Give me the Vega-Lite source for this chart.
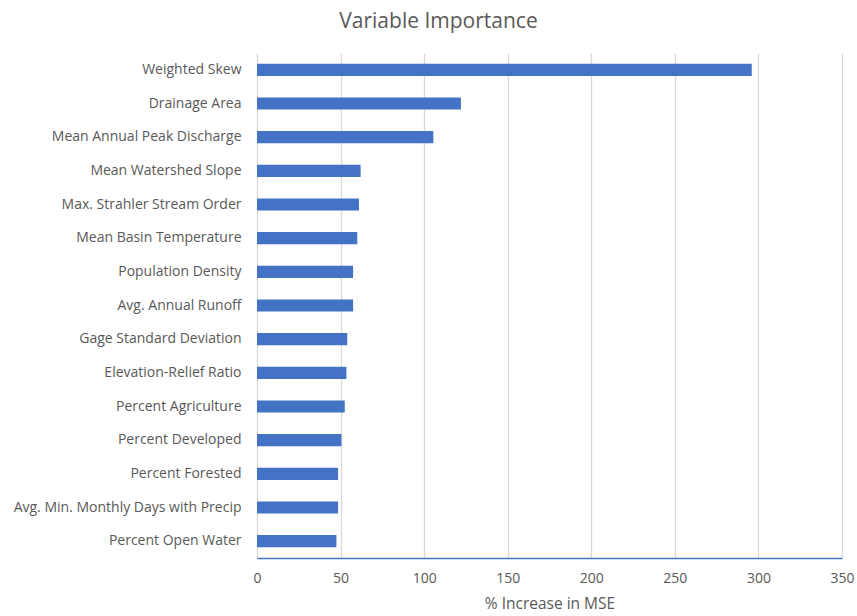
{
  "$schema": "https://vega.github.io/schema/vega-lite/v6.json",
  "autosize": "none",
  "padding": {"left": 257, "top": 53, "right": 15, "bottom": 58},
  "width": 585,
  "height": 505,
  "background": "white",
  "title": {
    "text": "Variable Importance",
    "font": "Open Sans",
    "fontSize": 21,
    "fontWeight": "normal",
    "color": "#595959",
    "anchor": "middle",
    "dx": -111,
    "offset": 21
  },
  "data": {
    "values": [
      {"variable": "Weighted Skew", "mse": 296},
      {"variable": "Drainage Area", "mse": 122},
      {"variable": "Mean Annual Peak Discharge", "mse": 105.5},
      {"variable": "Mean Watershed Slope", "mse": 62},
      {"variable": "Max. Strahler Stream Order", "mse": 61},
      {"variable": "Mean Basin Temperature", "mse": 60},
      {"variable": "Population Density", "mse": 57.5},
      {"variable": "Avg. Annual Runoff", "mse": 57.5},
      {"variable": "Gage Standard Deviation", "mse": 54},
      {"variable": "Elevation-Relief Ratio", "mse": 53.5},
      {"variable": "Percent Agriculture", "mse": 52.5},
      {"variable": "Percent Developed", "mse": 50.5},
      {"variable": "Percent Forested", "mse": 48.5},
      {"variable": "Avg. Min. Monthly Days with Precip", "mse": 48.5},
      {"variable": "Percent Open Water", "mse": 47.5}
    ]
  },
  "mark": {"type": "bar", "color": "#4472C4"},
  "encoding": {
    "y": {
      "field": "variable",
      "type": "nominal",
      "sort": null,
      "scale": {"paddingInner": 0.64, "paddingOuter": 0.32},
      "axis": {
        "title": null,
        "domain": false,
        "ticks": false,
        "labelPadding": 16,
        "labelFont": "Open Sans",
        "labelFontSize": 14,
        "labelColor": "#595959",
        "labelLimit": 300
      }
    },
    "x": {
      "field": "mse",
      "type": "quantitative",
      "scale": {"domain": [0, 350], "nice": false},
      "axis": {
        "title": "% Increase in MSE",
        "values": [0, 50, 100, 150, 200, 250, 300, 350],
        "grid": true,
        "gridColor": "#d9d9d9",
        "gridWidth": 1.3,
        "domainColor": "#4472C4",
        "domainWidth": 1.5,
        "ticks": false,
        "labelFlush": false,
        "labelPadding": 13,
        "labelFont": "Open Sans",
        "labelFontSize": 14,
        "labelColor": "#595959",
        "titleFont": "Open Sans",
        "titleFontSize": 15.5,
        "titleFontWeight": "normal",
        "titleColor": "#595959",
        "titlePadding": 11
      }
    }
  },
  "config": {"view": {"stroke": null}}
}
